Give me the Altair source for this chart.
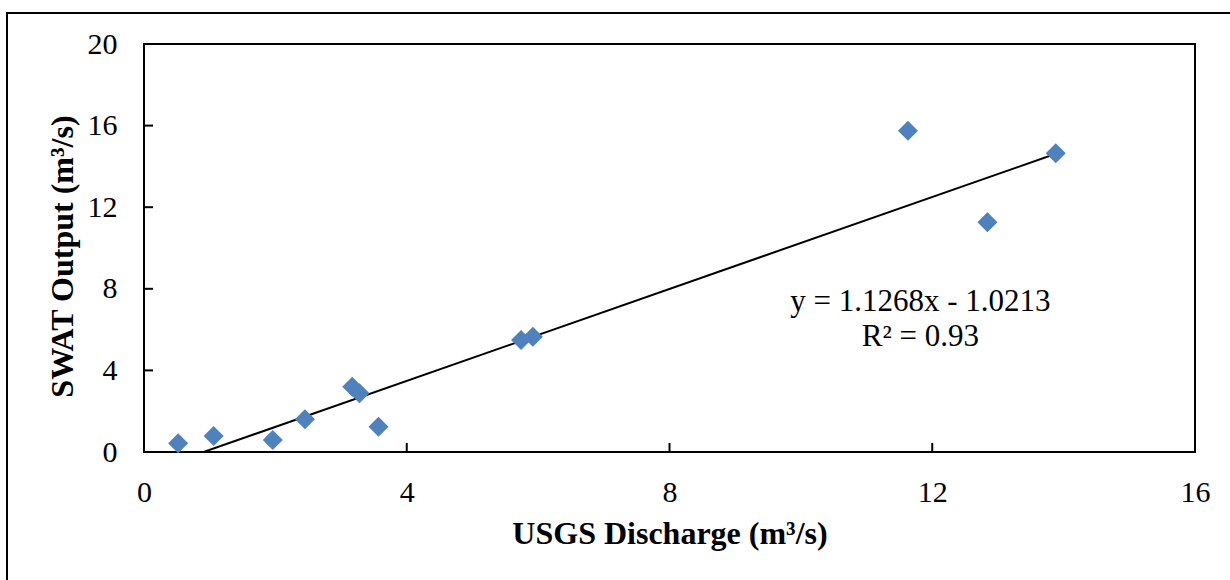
import altair as alt
import pandas as pd

# Observed (USGS) vs simulated (SWAT) discharge, m3/s
usgs = [0.52, 1.06, 1.96, 2.45, 3.17, 3.28, 3.57, 5.74, 5.92, 11.63, 12.84, 13.88]
swat = [0.43, 0.78, 0.59, 1.60, 3.20, 2.88, 1.24, 5.49, 5.65, 15.75, 11.26, 14.64]

# Linear trendline coefficients as printed on the chart
slope = 1.1268
intercept = -1.0213
eq_lines = ["y = 1.1268x - 1.0213", "R\u00b2 = 0.93"]
eq_pos = [11.82, 7.35]

x_ticks = [0, 4, 8, 12, 16]
y_ticks = [0, 4, 8, 12, 16, 20]

FONT = "Liberation Serif"
W, H = 1051, 408

pts = pd.DataFrame({"usgs": usgs, "swat": swat})
trend = pd.DataFrame({
    "usgs": [min(usgs), max(usgs)],
    "swat": [slope * min(usgs) + intercept, slope * max(usgs) + intercept],
})
xt = pd.DataFrame({"v": x_ticks[1:-1]})
yt = pd.DataFrame({"v": y_ticks[1:-1]})
eq = pd.DataFrame({"x": [eq_pos[0]], "y": [eq_pos[1]], "t": [eq_lines]})

xscale = alt.Scale(domain=[0, 16], nice=False)
yscale = alt.Scale(domain=[0, 20], nice=False)

xaxis = alt.Axis(values=x_ticks, format="d", grid=False, ticks=False, domain=False,
                 labelFont=FONT, labelFontSize=30, labelColor="black",
                 labelPadding=25, labelFlush=False, labelOverlap=False,
                 title="USGS Discharge (m\u00b3/s)", titleFont=FONT,
                 titleFontSize=32, titleFontWeight="bold", titleColor="black",
                 titleBaseline="alphabetic", titleY=91)
yaxis = alt.Axis(values=y_ticks, format="d", grid=False, ticks=False, domain=False,
                 labelFont=FONT, labelFontSize=30, labelColor="black",
                 labelPadding=27, labelFlush=False, labelOverlap=False,
                 title="SWAT Output (m\u00b3/s)", titleFont=FONT,
                 titleFontSize=32, titleFontWeight="bold", titleColor="black",
                 titleBaseline="alphabetic", titleX=-72, titleY=212)

points = alt.Chart(pts).mark_point(
    shape="diamond", filled=True, size=400, color="#4F81BD", opacity=1
).encode(
    x=alt.X("usgs:Q", scale=xscale, axis=xaxis),
    y=alt.Y("swat:Q", scale=yscale, axis=yaxis),
)

line = alt.Chart(trend).mark_line(color="black", strokeWidth=2, clip=True).encode(
    x=alt.X("usgs:Q", scale=xscale),
    y=alt.Y("swat:Q", scale=yscale),
)

# inward-pointing tick marks
xtick_marks = alt.Chart(xt).mark_rule(color="black", strokeWidth=2).encode(
    x=alt.X("v:Q", scale=xscale), y=alt.value(H), y2=alt.value(H - 9)
)
ytick_marks = alt.Chart(yt).mark_rule(color="black", strokeWidth=2).encode(
    y=alt.Y("v:Q", scale=yscale), x=alt.value(0), x2=alt.value(9)
)

label = alt.Chart(eq).mark_text(
    font=FONT, fontSize=31, color="black", align="center", baseline="middle",
    lineHeight=35
).encode(
    x=alt.X("x:Q", scale=xscale),
    y=alt.Y("y:Q", scale=yscale),
    text="t",
)

# outer chart border
border = alt.Chart(pd.DataFrame({"a": [0]})).mark_rect(
    fill=None, stroke="black", strokeWidth=2, clip=False
).encode(
    x=alt.value(-137), x2=alt.value(1100), y=alt.value(-31), y2=alt.value(560)
)

chart = alt.layer(border, line, points, xtick_marks, ytick_marks, label).properties(
    width=W, height=H,
    autosize=alt.AutoSizeParams(type="none"),
    padding={"left": 144, "top": 44, "right": 35, "bottom": 128},
    background="white",
).configure_view(stroke="black", strokeWidth=2)

chart.save("out.html", embed_options={"renderer": "svg", "actions": False})
